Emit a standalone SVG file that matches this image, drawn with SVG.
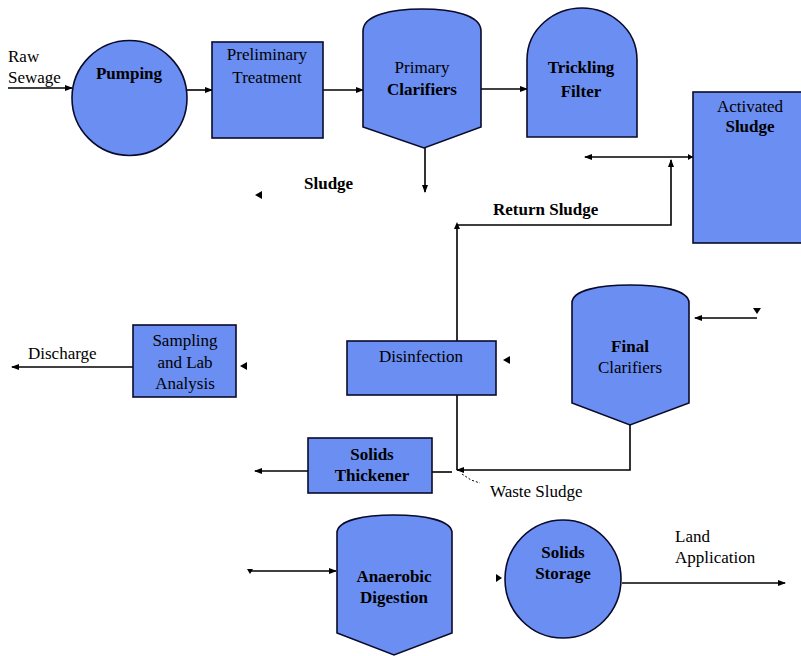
<svg xmlns="http://www.w3.org/2000/svg" width="801" height="656" viewBox="0 0 801 656">
<style>
.n{fill:#6b8ef2;stroke:#0a0a2a;stroke-width:1.6}
.t{font-family:"Liberation Serif","DejaVu Serif",serif;font-size:17px;fill:#000;text-anchor:middle}
.l{font-family:"Liberation Serif","DejaVu Serif",serif;font-size:17px;fill:#000}
.b{font-weight:bold}
.c{fill:none;stroke:#000;stroke-width:1.6}
.d{fill:none;stroke:#000;stroke-width:1;stroke-dasharray:2,2}
.h{fill:#000}
</style>
<defs>
<marker id="a" markerWidth="8" markerHeight="6" refX="7" refY="3" orient="auto" markerUnits="userSpaceOnUse">
<path d="M0,0 L8,3 L0,6 Z" fill="#000"/>
</marker>
</defs>
<rect width="801" height="656" fill="#fff"/>
<g id="connectors">
<line class="c" x1="8" y1="88" x2="72" y2="88" marker-end="url(#a)"/>
<line class="c" x1="187" y1="90" x2="212" y2="90" marker-end="url(#a)"/>
<line class="c" x1="323" y1="90" x2="363" y2="90" marker-end="url(#a)"/>
<line class="c" x1="481" y1="89" x2="527" y2="89" marker-end="url(#a)"/>
<line class="c" x1="425" y1="148" x2="425" y2="192" marker-end="url(#a)"/>
<path class="h" d="M255,195 L262,191 L262,199 Z"/>
<line class="c" x1="693" y1="157" x2="585" y2="157" marker-end="url(#a)"/>
<path class="h" d="M693,157 L688,154 L688,160 Z"/>
<polyline class="c" points="457,470 457,225 671,225 671,160" marker-end="url(#a)"/>
<path class="h" d="M457,222 L454,229 L460,229 Z"/>
<polyline class="c" points="630,425 630,470 457,470" marker-end="url(#a)"/>
<line class="c" x1="432" y1="472" x2="452" y2="472"/>
<polyline class="d" points="462,474 471,480 480,483"/>
<line class="c" x1="308" y1="471" x2="255" y2="471" marker-end="url(#a)"/>
<line class="c" x1="757" y1="318" x2="695" y2="318" marker-end="url(#a)"/>
<path class="h" d="M757,314 L753,308 L761,308 Z"/>
<path class="h" d="M503,360 L510,356 L510,364 Z"/>
<line class="c" x1="133" y1="367" x2="12" y2="367" marker-end="url(#a)"/>
<path class="h" d="M240,366 L247,362 L247,370 Z"/>
<line class="c" x1="250" y1="571" x2="336" y2="571" marker-end="url(#a)"/>
<path class="h" d="M250,574 L247,569 L253,569 Z"/>
<path class="h" d="M502,578 L496,574 L496,582 Z"/>
<line class="c" x1="622" y1="583" x2="785" y2="583" marker-end="url(#a)"/>
</g>
<g id="raw-sewage">
<text class="l" x="8" y="62">Raw</text>
<text class="l" x="8" y="83">Sewage</text>
</g>
<g id="pumping">
<circle class="n" cx="129.5" cy="98" r="57.5"/>
<text class="t b" x="129" y="79">Pumping</text>
</g>
<g id="preliminary-treatment">
<rect class="n" x="212" y="42" width="111" height="96"/>
<text class="t" x="267" y="60">Preliminary</text>
<text class="t" x="267" y="83">Treatment</text>
</g>
<g id="primary-clarifiers">
<path class="n" d="M363,127 L363,31 C363,15 392,9 422,9 C452,9 481,15 481,31 L481,127 L424,148 Z"/>
<text class="t" x="422" y="73">Primary</text>
<text class="t b" x="422" y="95">Clarifiers</text>
</g>
<g id="trickling-filter">
<path class="n" d="M527,137 L527,60 C527,28 555,8 582,8 C609,8 637,28 637,60 L637,137 Z"/>
<text class="t b" x="581" y="73">Trickling</text>
<text class="t b" x="581" y="97">Filter</text>
</g>
<g id="activated-sludge">
<rect class="n" x="693" y="92" width="120" height="151"/>
<text class="t" x="750" y="112">Activated</text>
<text class="t b" x="750" y="132">Sludge</text>
</g>
<g id="labels">
<text class="l b" x="304" y="189">Sludge</text>
<text class="l b" x="493" y="215">Return Sludge</text>
<text class="l" x="28" y="359">Discharge</text>
<text class="l" x="490" y="497">Waste Sludge</text>
<text class="l" x="675" y="542">Land</text>
<text class="l" x="675" y="563">Application</text>
</g>
<g id="sampling-lab-analysis">
<rect class="n" x="133" y="325" width="103" height="72"/>
<text class="t" x="185" y="346">Sampling</text>
<text class="t" x="185" y="368">and Lab</text>
<text class="t" x="185" y="389">Analysis</text>
</g>
<g id="disinfection">
<rect class="n" x="347" y="341" width="149" height="54"/>
<text class="t" x="421" y="362">Disinfection</text>
</g>
<g id="final-clarifiers">
<path class="n" d="M572,403 L572,303 C572,290 600,285 630,285 C660,285 689,290 689,303 L689,403 L630,425 Z"/>
<text class="t b" x="630" y="352">Final</text>
<text class="t" x="630" y="373">Clarifiers</text>
</g>
<g id="solids-thickener">
<rect class="n" x="308" y="438" width="124" height="55"/>
<text class="t b" x="372" y="460">Solids</text>
<text class="t b" x="372" y="481">Thickener</text>
</g>
<g id="anaerobic-digestion">
<path class="n" d="M337,633 L337,533 C337,520 365,515 394,515 C423,515 452,520 452,533 L452,633 L394,655 Z"/>
<text class="t b" x="394" y="582">Anaerobic</text>
<text class="t b" x="394" y="603">Digestion</text>
</g>
<g id="solids-storage">
<ellipse class="n" cx="563" cy="579" rx="58" ry="59"/>
<text class="t b" x="563" y="558">Solids</text>
<text class="t b" x="563" y="579">Storage</text>
</g>
</svg>
